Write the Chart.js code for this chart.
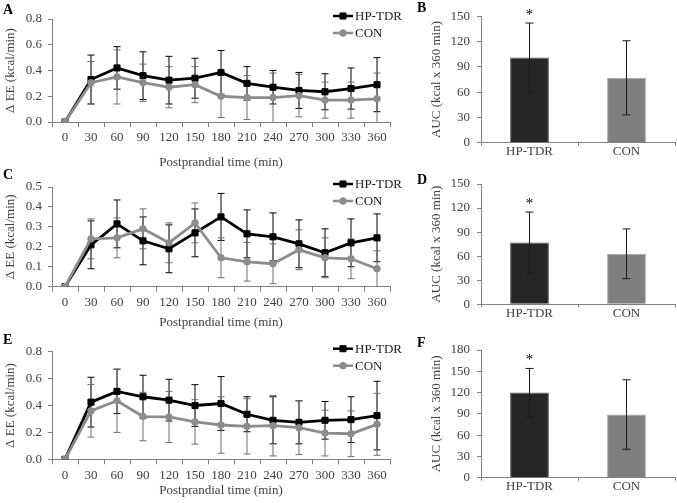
<!DOCTYPE html>
<html>
<head>
<meta charset="utf-8">
<script src="https://cdn.jsdelivr.net/npm/chart.js@4.4.0/dist/chart.umd.min.js"></script>
<style>
  body { margin: 0; background: #fff; }
  #wrap { position: relative; width: 677px; height: 503px; font-family: "Liberation Serif", "DejaVu Serif", serif; }
  .box { position: absolute; }
  .lbl { position: absolute; font-weight: bold; font-size: 14px; color: #000; line-height: 16px; }
</style>
</head>
<body>
<div id="wrap">
  <div class="box" style="left:0;top:0;width:410px;height:170px"><canvas id="cA"></canvas></div>
  <div class="box" style="left:0;top:160px;width:410px;height:170px"><canvas id="cC"></canvas></div>
  <div class="box" style="left:0;top:325px;width:410px;height:173px"><canvas id="cE"></canvas></div>
  <div class="box" style="left:425px;top:0;width:252px;height:165px"><canvas id="cB"></canvas></div>
  <div class="box" style="left:425px;top:165px;width:252px;height:160px"><canvas id="cD"></canvas></div>
  <div class="box" style="left:425px;top:330px;width:252px;height:173px"><canvas id="cF"></canvas></div>
  <div class="lbl" style="left:3px;top:2px">A</div>
  <div class="lbl" style="left:417px;top:0px">B</div>
  <div class="lbl" style="left:3px;top:167px">C</div>
  <div class="lbl" style="left:417px;top:172px">D</div>
  <div class="lbl" style="left:3px;top:332px">E</div>
  <div class="lbl" style="left:417px;top:335px">F</div>
</div>
<script>
// 時間軸 (min)
var times = ['0','30','60','90','120','150','180','210','240','270','300','330','360'];

// A
var hpA     = [0, 0.33, 0.42, 0.36, 0.325, 0.34, 0.385, 0.30, 0.27, 0.245, 0.235, 0.26, 0.29];
var hpAErr  = [0, 0.19, 0.165, 0.185, 0.185, 0.155, 0.17, 0.13, 0.13, 0.14, 0.14, 0.16, 0.21];
var conA    = [0, 0.305, 0.35, 0.305, 0.27, 0.29, 0.20, 0.19, 0.19, 0.205, 0.17, 0.17, 0.18];
var conAErr = [0, 0.165, 0.21, 0.145, 0.16, 0.14, 0.165, 0.17, 0.19, 0.165, 0.14, 0.14, 0.20];

// C
var hpC     = [0, 0.21, 0.315, 0.23, 0.19, 0.27, 0.35, 0.265, 0.25, 0.215, 0.17, 0.22, 0.245];
var hpCErr  = [0, 0.12, 0.12, 0.12, 0.12, 0.12, 0.118, 0.12, 0.12, 0.12, 0.12, 0.12, 0.12];
var conC    = [0, 0.24, 0.245, 0.29, 0.22, 0.32, 0.145, 0.125, 0.115, 0.185, 0.145, 0.14, 0.09];
var conCErr = [0, 0.1, 0.1, 0.1, 0.1, 0.1, 0.1, 0.097, 0.1, 0.1, 0.1, 0.1, 0.09];

// E
var hpE     = [0, 0.425, 0.505, 0.465, 0.44, 0.40, 0.415, 0.335, 0.29, 0.275, 0.29, 0.295, 0.325];
var hpEErr  = [0, 0.185, 0.165, 0.16, 0.155, 0.155, 0.2, 0.13, 0.175, 0.16, 0.14, 0.17, 0.255];
var conE    = [0, 0.36, 0.435, 0.318, 0.315, 0.278, 0.255, 0.245, 0.25, 0.235, 0.195, 0.19, 0.26];
var conEErr = [0, 0.195, 0.235, 0.18, 0.19, 0.165, 0.21, 0.205, 0.225, 0.2, 0.17, 0.17, 0.23];

// AUC 長條圖
var groups  = ['HP-TDR', 'CON'];
var sig     = ['*', ''];
var aucB    = [101, 77];
var aucBErr = [41, 44];
var aucD    = [77, 63];
var aucDErr = [38, 31];
var aucF    = [120, 89];
var aucFErr = [34, 49];

var serif = '"Liberation Serif", "DejaVu Serif", serif';
Chart.defaults.font.family = serif;
Chart.defaults.font.size = 13;
Chart.defaults.color = '#404040';
Chart.defaults.animation = false;

function drawErrors(chart, opts) {
  var ctx = chart.ctx, ys = chart.scales.y;
  chart.data.datasets.forEach(function (ds, di) {
    if (!ds.errors) return;
    var meta = chart.getDatasetMeta(di);
    ctx.save();
    ctx.strokeStyle = ds.errorColor;
    ctx.lineWidth = 1;
    meta.data.forEach(function (el, i) {
      var e = ds.errors[i];
      if (!e) return;
      var v = ds.data[i], w = opts.cap;
      var t = ys.getPixelForValue(v + e);
      var low = Math.max(v - e, ys.min);
      var b = ys.getPixelForValue(low);
      ctx.beginPath();
      ctx.moveTo(el.x, t); ctx.lineTo(el.x, b);
      ctx.moveTo(el.x - w, t); ctx.lineTo(el.x + w, t);
      if (v - e > ys.min) { ctx.moveTo(el.x - w, b); ctx.lineTo(el.x + w, b); }
      ctx.stroke();
      if (ds.marks && ds.marks[i]) {
        ctx.fillStyle = '#000';
        ctx.font = '15px ' + serif;
        ctx.textAlign = 'center';
        ctx.textBaseline = 'alphabetic';
        ctx.fillText(ds.marks[i], el.x, t - 4);
      }
    });
    ctx.restore();
  });
}

var errorBars = {
  id: 'errorBars',
  beforeDatasetsDraw: function (chart, args, opts) { if (opts.before) drawErrors(chart, opts); },
  afterDatasetsDraw: function (chart, args, opts) { if (!opts.before) drawErrors(chart, opts); }
};

// 圖例 (右上角)
var cornerLegend = {
  id: 'cornerLegend',
  afterDraw: function (chart, args, opts) {
    if (!opts.show) return;
    var ctx = chart.ctx, ca = chart.chartArea;
    chart.data.datasets.forEach(function (ds, i) {
      var y = ca.top - 3 + i * 17;
      var x0 = ca.right - 57, x1 = ca.right - 37;
      ctx.save();
      ctx.strokeStyle = ds.borderColor;
      ctx.fillStyle = ds.borderColor;
      ctx.lineWidth = 2.5;
      ctx.beginPath(); ctx.moveTo(x0, y); ctx.lineTo(x1, y); ctx.stroke();
      ctx.lineWidth = 1;
      Chart.helpers.drawPoint(ctx, { pointStyle: ds.pointStyle, radius: ds.pointRadius, borderWidth: 1 }, (x0 + x1) / 2, y);
      ctx.fillStyle = '#1a1a1a';
      ctx.font = '13px ' + serif;
      ctx.textAlign = 'left';
      ctx.textBaseline = 'middle';
      ctx.fillText(ds.label, x1 + 2, y + 1);
      ctx.restore();
    });
  }
};

function lineChart(id, hp, hpErr, con, conErr, yMax, yStep, padTop, xH) {
  new Chart(document.getElementById(id), {
    type: 'line',
    data: {
      labels: times,
      datasets: [
        { label: 'HP-TDR', data: hp, errors: hpErr, errorColor: '#000', order: 1,
          borderColor: '#000', backgroundColor: '#000', borderWidth: 2.8,
          pointStyle: 'rect', pointRadius: 4.3, pointBorderWidth: 1 },
        { label: 'CON', data: con, errors: conErr, errorColor: '#6e6e6e', order: 0,
          borderColor: '#8c8c8c', backgroundColor: '#8c8c8c', borderWidth: 2.8,
          pointStyle: 'circle', pointRadius: 3.3, pointBorderWidth: 1 }
      ]
    },
    plugins: [errorBars, cornerLegend],
    options: {
      responsive: true, maintainAspectRatio: false,
      layout: { padding: { top: padTop, right: 20, left: 0, bottom: 0 } },
      plugins: {
        legend: { display: false }, tooltip: { enabled: false },
        errorBars: { cap: 3.5, before: true },
        cornerLegend: { show: true }
      },
      scales: {
        x: {
          offset: true,
          grid: { display: true, offset: true, drawOnChartArea: false, tickLength: 5, color: '#808080' },
          border: { color: '#808080' },
          ticks: { padding: 3, maxRotation: 0, autoSkip: false },
          title: { display: true, text: 'Postprandial time (min)', padding: 0 },
          afterFit: function (s) { s.height = xH; }
        },
        y: {
          min: 0, max: yMax,
          ticks: { stepSize: yStep, padding: 6, callback: function (v) { return v.toFixed(1); } },
          grid: { drawOnChartArea: false, tickLength: 4, color: '#808080' },
          border: { color: '#808080' },
          title: { display: true, text: 'Δ EE (kcal/min)', padding: { top: 3, bottom: 0 } },
          afterFit: function (s) { s.width = 52; }
        }
      }
    }
  });
}

function barChart(id, vals, errs, yMax, padTop, xH) {
  new Chart(document.getElementById(id), {
    type: 'bar',
    data: {
      labels: groups,
      datasets: [{
        data: vals, errors: errs, marks: sig, errorColor: '#1a1a1a',
        backgroundColor: ['#262626', '#7f7f7f'], borderColor: ['#5a5a5a', '#a6a6a6'],
        borderWidth: 1, barPercentage: 0.4, categoryPercentage: 1
      }]
    },
    plugins: [errorBars],
    options: {
      responsive: true, maintainAspectRatio: false,
      layout: { padding: { top: padTop, right: 2, left: 0, bottom: 0 } },
      plugins: { legend: { display: false }, tooltip: { enabled: false }, errorBars: { cap: 4 } },
      scales: {
        x: {
          grid: { display: true, offset: true, drawOnChartArea: false, tickLength: 3, color: '#808080' },
          border: { color: '#808080' },
          ticks: { padding: -2 },
          afterFit: function (s) { s.height = xH; }
        },
        y: {
          min: 0, max: yMax,
          ticks: { stepSize: 30, padding: 7 },
          grid: { drawOnChartArea: false, tickLength: 4, color: '#808080' },
          border: { color: '#808080' },
          title: { display: true, text: 'AUC (kcal x 360 min)', padding: { top: 4, bottom: 0 } },
          afterFit: function (s) { s.width = 56; }
        }
      }
    }
  });
}

lineChart('cA', hpA, hpAErr, conA, conAErr, 0.8, 0.2, 19, 48);
lineChart('cC', hpC, hpCErr, conC, conCErr, 0.5, 0.1, 27, 43.3);
lineChart('cE', hpE, hpEErr, conE, conEErr, 0.8, 0.2, 26.7, 38.7);
barChart('cB', aucB, aucBErr, 150, 16.3, 22.3);
barChart('cD', aucD, aucDErr, 150, 19, 20.7);
barChart('cF', aucF, aucFErr, 180, 20, 25.3);
</script>
</body>
</html>
